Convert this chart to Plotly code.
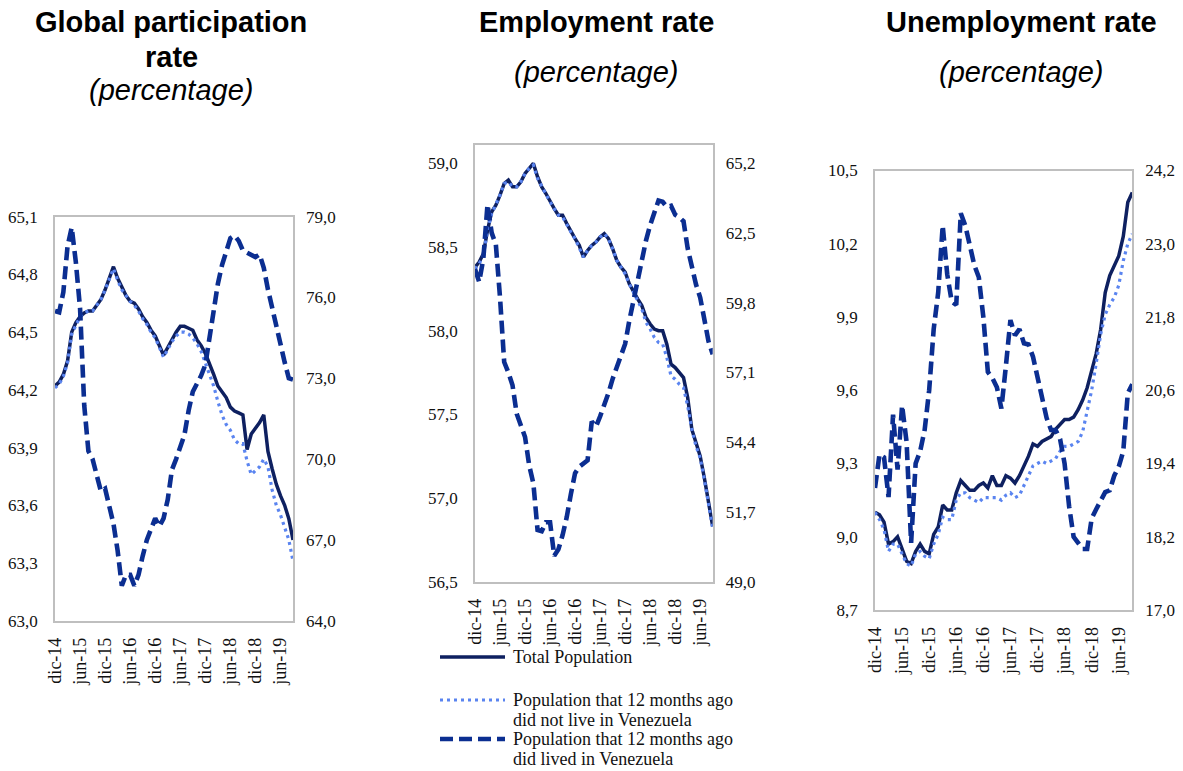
import plotly.graph_objects as go

W, H = 1183, 771

MES = ["ene", "feb", "mar", "abr", "may", "jun", "jul", "ago", "sep", "oct", "nov", "dic"]
MONTHS = ["dic-14"] + [f"{m}-{y}" for y in ("15", "16", "17", "18") for m in MES] + [f"{m}-19" for m in MES[:9]]
TICK_LABELS = ["dic-14", "jun-15", "dic-15", "jun-16", "dic-16", "jun-17", "dic-17", "jun-18", "dic-18", "jun-19"]

# Panel 1: Global participation rate
P1_TOTAL = [64.22, 64.24, 64.28, 64.35, 64.50, 64.55, 64.58, 64.60, 64.61, 64.61,
            64.64, 64.67, 64.72, 64.78, 64.84, 64.78, 64.73, 64.69, 64.66, 64.65,
            64.62, 64.58, 64.55, 64.51, 64.48, 64.43, 64.38, 64.42, 64.46, 64.50,
            64.53, 64.53, 64.52, 64.51, 64.46, 64.43, 64.39, 64.34, 64.28, 64.22,
            64.19, 64.16, 64.11, 64.09, 64.08, 64.07, 63.89, 63.97, 64.00, 64.03,
            64.07, 63.88, 63.79, 63.71, 63.65, 63.60, 63.53, 63.42]
P1_NOTLIVE = [64.21, 64.23, 64.27, 64.34, 64.49, 64.54, 64.58, 64.60, 64.61, 64.61,
              64.64, 64.67, 64.72, 64.78, 64.83, 64.77, 64.72, 64.69, 64.66, 64.64,
              64.61, 64.57, 64.54, 64.50, 64.47, 64.42, 64.37, 64.41, 64.45, 64.48,
              64.50, 64.50, 64.49, 64.47, 64.44, 64.40, 64.34, 64.29, 64.22, 64.14,
              64.07, 64.02, 63.99, 63.94, 63.92, 63.92, 63.83, 63.76, 63.78, 63.80,
              63.84, 63.80, 63.68, 63.60, 63.55, 63.49, 63.42, 63.31]
P1_LIVED = [75.5, 75.45, 76.2, 77.9, 78.6, 77.3, 75.6, 72.0, 70.3, 70.0,
            69.4, 68.8, 68.9, 68.2, 67.6, 66.6, 65.3, 65.7, 65.7, 65.3,
            65.7, 66.4, 67.0, 67.4, 67.8, 67.5, 67.8, 68.5, 69.6, 70.0,
            70.4, 70.9, 71.8, 72.5, 72.8, 73.1, 73.5, 74.6, 75.6, 76.5,
            77.2, 77.7, 78.2, 78.3, 78.1, 77.75, 77.65, 77.6, 77.5, 77.6,
            77.1, 76.3, 75.6, 74.9, 74.3, 73.6, 73.0, 72.95]

# Panel 2: Employment rate
P2_TOTAL = [58.38, 58.41, 58.46, 58.60, 58.71, 58.75, 58.81, 58.88, 58.90, 58.86,
            58.86, 58.89, 58.94, 58.97, 59.00, 58.92, 58.86, 58.82, 58.77, 58.73,
            58.69, 58.69, 58.64, 58.59, 58.55, 58.51, 58.44, 58.48, 58.51, 58.53,
            58.56, 58.58, 58.55, 58.49, 58.42, 58.38, 58.35, 58.28, 58.23, 58.19,
            58.15, 58.08, 58.04, 58.01, 58.00, 58.00, 57.92, 57.80, 57.78, 57.75,
            57.72, 57.60, 57.41, 57.33, 57.25, 57.12, 56.97, 56.83]
P2_NOTLIVE = [58.37, 58.40, 58.45, 58.60, 58.70, 58.75, 58.81, 58.88, 58.89, 58.86,
              58.86, 58.89, 58.94, 58.97, 58.99, 58.91, 58.86, 58.82, 58.77, 58.73,
              58.69, 58.68, 58.63, 58.59, 58.55, 58.50, 58.44, 58.48, 58.51, 58.53,
              58.56, 58.58, 58.55, 58.49, 58.42, 58.38, 58.34, 58.28, 58.23, 58.18,
              58.13, 58.05, 58.01, 57.96, 57.93, 57.92, 57.84, 57.73, 57.71, 57.68,
              57.66, 57.55, 57.41, 57.31, 57.24, 57.11, 56.96, 56.82]
P2_LIVED = [61.1, 60.6, 61.5, 63.6, 62.5, 62.05, 60.0, 57.5, 57.1, 56.6,
            55.5, 55.1, 54.6, 53.5, 52.8, 51.0, 50.95, 51.3, 51.3, 50.0,
            50.25, 50.8, 51.5, 52.4, 53.2, 53.45, 53.6, 53.7, 55.2, 55.0,
            55.4, 55.8, 56.3, 56.85, 57.3, 57.7, 58.2, 59.1, 59.9, 60.6,
            61.5, 62.2, 62.8, 63.3, 63.75, 63.7, 63.5, 63.55, 63.2, 63.1,
            62.95, 61.9, 61.1, 60.5, 60.0, 59.2, 58.3, 57.8]

# Panel 3: Unemployment rate
P3_TOTAL = [9.10, 9.09, 9.06, 8.97, 8.98, 9.00, 8.95, 8.90, 8.89, 8.94,
            8.97, 8.94, 8.93, 9.01, 9.04, 9.13, 9.11, 9.11, 9.18, 9.23,
            9.21, 9.19, 9.19, 9.21, 9.22, 9.20, 9.25, 9.21, 9.21, 9.25,
            9.24, 9.22, 9.25, 9.29, 9.33, 9.38, 9.37, 9.39, 9.40, 9.41,
            9.44, 9.46, 9.48, 9.48, 9.49, 9.52, 9.56, 9.61, 9.68, 9.75,
            9.85, 10.00, 10.07, 10.11, 10.15, 10.23, 10.37, 10.41]
P3_NOTLIVE = [9.10, 9.07, 9.03, 8.94, 8.97, 8.97, 8.93, 8.89, 8.88, 8.93,
              8.94, 8.92, 8.91, 8.97, 9.01, 9.08, 9.07, 9.07, 9.15, 9.18,
              9.18, 9.16, 9.15, 9.14, 9.16, 9.16, 9.16, 9.16, 9.15, 9.17,
              9.18, 9.16, 9.17, 9.21, 9.25, 9.29, 9.30, 9.31, 9.30, 9.31,
              9.32, 9.35, 9.37, 9.37, 9.38, 9.39, 9.43, 9.52, 9.60, 9.71,
              9.83, 9.91, 9.95, 9.98, 10.03, 10.13, 10.20, 10.24]
P3_LIVED = [19.0, 19.55, 19.5, 18.85, 20.2, 19.3, 20.35, 19.75, 18.1, 19.4,
            19.6, 19.95, 20.6, 21.6, 22.2, 23.3, 22.5, 22.05, 22.0, 23.5,
            23.3, 22.95, 22.65, 22.45, 21.8, 20.9, 20.8, 20.65, 20.3, 21.0,
            21.75, 21.5, 21.6, 21.37, 21.35, 21.15, 20.8, 20.5, 20.15, 19.95,
            19.95, 19.8, 19.4, 18.7, 18.2, 18.1, 18.0, 18.0, 18.5, 18.65,
            18.8, 18.93, 18.96, 19.2, 19.35, 19.6, 20.55, 20.7]

P1_LEFT_TICKS = [63.0, 63.3, 63.6, 63.9, 64.2, 64.5, 64.8, 65.1]
P1_RIGHT_TICKS = [64.0, 67.0, 70.0, 73.0, 76.0, 79.0]
P2_LEFT_TICKS = [56.5, 57.0, 57.5, 58.0, 58.5, 59.0]
P2_RIGHT_TICKS = [49.0, 51.7, 54.4, 57.1, 59.8, 62.5, 65.2]
P3_LEFT_TICKS = [8.7, 9.0, 9.3, 9.6, 9.9, 10.2, 10.5]
P3_RIGHT_TICKS = [17.0, 18.2, 19.4, 20.6, 21.8, 23.0, 24.2]

SERIES_NAMES = ["Total Population",
                "Population that 12 months ago did not live in Venezuela",
                "Population that 12 months ago did lived in Venezuela"]

C_TOTAL = "#0E2060"
C_NOTLIVE = "#5A84F0"
C_LIVED = "#0B2E91"
BORDER = "#BFBFBF"
SERIF = "Liberation Serif"
SANS = "Liberation Sans"

DASH_LIVED = "13px,6px"
DOT_NOT = "3px,4px"
W_TOTAL, W_NOT, W_LIVED = 3.5, 3.2, 4.6

fig = go.Figure()

panels = [
    ("x", "y", "y2", P1_TOTAL, P1_NOTLIVE, P1_LIVED, (55, 293), (216.7, 620.7),
     (63.0, 65.1), (64.0, 79.0), P1_LEFT_TICKS, P1_RIGHT_TICKS),
    ("x2", "y3", "y4", P2_TOTAL, P2_NOTLIVE, P2_LIVED, (475, 712.7), (145, 581.7),
     (56.5, 59.11), (49.0, 65.9), P2_LEFT_TICKS, P2_RIGHT_TICKS),
    ("x3", "y5", "y6", P3_TOTAL, P3_NOTLIVE, P3_LIVED, (875, 1132.3), (170.5, 610),
     (8.7, 10.5), (17.0, 24.2), P3_LEFT_TICKS, P3_RIGHT_TICKS),
]

ytickfont = dict(family=SERIF, size=17, color="#111111")
xtickfont = dict(family=SERIF, size=18, color="#111111")
layout_axes = {}
for (xa, ya, ya2, tot, notl, liv, xd, yd, lr, rr, lt, rt) in panels:
    fig.add_trace(go.Scatter(x=MONTHS, y=liv, xaxis=xa, yaxis=ya2, mode="lines",
                             name=SERIES_NAMES[2], showlegend=False,
                             line=dict(color=C_LIVED, width=W_LIVED, dash=DASH_LIVED)))
    fig.add_trace(go.Scatter(x=MONTHS, y=tot, xaxis=xa, yaxis=ya, mode="lines",
                             name=SERIES_NAMES[0], showlegend=False,
                             line=dict(color=C_TOTAL, width=W_TOTAL)))
    fig.add_trace(go.Scatter(x=MONTHS, y=notl, xaxis=xa, yaxis=ya, mode="lines",
                             name=SERIES_NAMES[1], showlegend=False,
                             line=dict(color=C_NOTLIVE, width=W_NOT, dash=DOT_NOT)))
    xkey = "xaxis" + xa[1:]
    ykey = "yaxis" + ya[1:]
    y2key = "yaxis" + ya2[1:]
    layout_axes[xkey] = dict(
        domain=[xd[0] / W, xd[1] / W], anchor=ya, type="category", automargin=False,
        range=[0, len(MONTHS) - 1], tickmode="array",
        tickvals=[MONTHS[i] for i in range(0, 55, 6)], ticktext=TICK_LABELS,
        tickangle=-90, showgrid=False, zeroline=False, showline=True, mirror=True,
        linecolor=BORDER, linewidth=1.5, ticks="", ticklabelstandoff=8,
        tickfont=xtickfont)
    layout_axes[ykey] = dict(
        domain=[1 - yd[1] / H, 1 - yd[0] / H], anchor=xa, range=list(lr), automargin=False,
        tickmode="array", tickvals=lt, ticktext=[f"{v:.1f}".replace(".", ",") for v in lt],
        showgrid=False, zeroline=False, showline=True, mirror=True,
        linecolor=BORDER, linewidth=1.5, ticks="", ticklabelstandoff=12,
        tickfont=ytickfont)
    layout_axes[y2key] = dict(
        overlaying=ya, anchor=xa, side="right", range=list(rr), automargin=False,
        tickmode="array", tickvals=rt, ticktext=[f"{v:.1f}".replace(".", ",") for v in rt],
        showgrid=False, zeroline=False, showline=False, ticks="", ticklabelstandoff=12,
        tickfont=ytickfont)

fig.update_layout(**layout_axes)

titles = [
    (171, 22, "<b>Global participation</b>"),
    (171, 57, "<b>rate</b>"),
    (171, 90, "<i>(percentage)</i>"),
    (596, 22, "<b>Employment rate</b>"),
    (596, 72, "<i>(percentage)</i>"),
    (1021, 22, "<b>Unemployment rate</b>"),
    (1021, 72, "<i>(percentage)</i>"),
]
annotations = []
for (cx, cy, txt) in titles:
    annotations.append(dict(x=cx / W, y=1 - cy / H, xref="paper", yref="paper",
                            text=txt, showarrow=False, xanchor="center", yanchor="middle",
                            font=dict(family=SANS, size=29, color="#000000")))

legend_rows = [
    (657, C_TOTAL, "solid", W_TOTAL, ["Total Population"]),
    (700, C_NOTLIVE, DOT_NOT, W_NOT, ["Population that 12 months ago", "did not live in Venezuela"]),
    (739, C_LIVED, DASH_LIVED, W_LIVED, ["Population that 12 months ago", "did lived in Venezuela"]),
]
shapes = []
for (ly, col, dash, wd, lines) in legend_rows:
    shapes.append(dict(type="line", xref="paper", yref="paper",
                       x0=440 / W, x1=505 / W, y0=1 - ly / H, y1=1 - ly / H,
                       line=dict(color=col, width=wd, dash=dash)))
    for k, t in enumerate(lines):
        annotations.append(dict(x=511 / W, y=1 - (ly + 20 * k) / H, xref="paper", yref="paper",
                                text=t, showarrow=False, xanchor="left", yanchor="middle",
                                font=dict(family=SERIF, size=18, color="#111111")))

fig.update_layout(
    template="none",
    width=W, height=H, margin=dict(l=0, r=0, t=0, b=0, pad=0, autoexpand=False),
    paper_bgcolor="white", plot_bgcolor="white", showlegend=False,
    annotations=annotations, shapes=shapes,
)

fig.write_html("out.html", config={"displayModeBar": False},
               post_script="document.body.style.margin='0px';document.body.style.padding='0px';")
